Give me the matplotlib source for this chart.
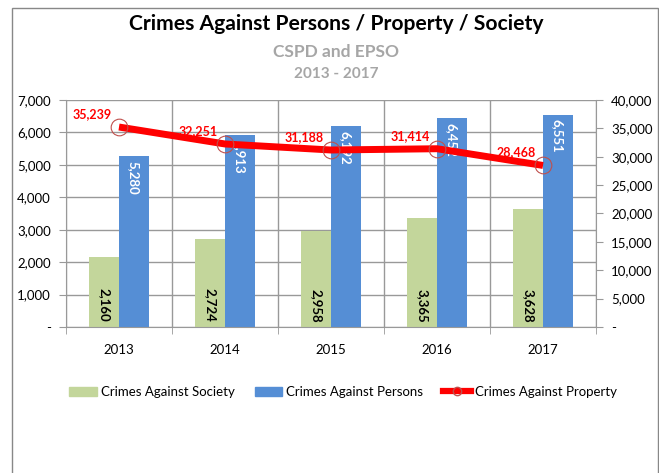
import matplotlib
matplotlib.use("Agg")
import matplotlib.pyplot as plt
from matplotlib.patches import Rectangle
from matplotlib.lines import Line2D
from matplotlib.ticker import FuncFormatter, MultipleLocator
import numpy as np

plt.rcParams['font.family'] = ['Lato', 'DejaVu Sans']

years = ["2013", "2014", "2015", "2016", "2017"]
society = [2160, 2724, 2958, 3365, 3628]
persons = [5280, 5913, 6192, 6452, 6551]
property_ = [35239, 32251, 31188, 31414, 28468]

W, H = 659, 473
fig = plt.figure(figsize=(W/100, H/100), dpi=100)

# outer border
fig.patches.append(Rectangle((12/W, -0.01), (658-12)/W, (H-8)/H + 0.01, transform=fig.transFigure,
                             fill=False, edgecolor='#888888', linewidth=1.0))

left, right, top, bottom = 66, 596, 100, 327
ax = fig.add_axes([left/W, 1-bottom/H, (right-left)/W, (bottom-top)/H])
ax2 = ax.twinx()

x = np.arange(len(years))
bw = 0.28
green = '#c3d69b'
blue = '#558ed5'
ax.bar(x - bw/2, society, bw, color=green, zorder=2)
ax.bar(x + bw/2, persons, bw, color=blue, zorder=2)

ax.set_xlim(-0.5, len(years)-0.5)
ax.set_ylim(0, 7000)
ax.yaxis.set_major_locator(MultipleLocator(1000))
fmt = FuncFormatter(lambda v, p: '-' if v == 0 else f'{int(v):,}')
ax.yaxis.set_major_formatter(fmt)
ax.set_xticks(x)
ax.set_xticklabels(years)
ax.set_xticks(np.arange(-0.5, len(years)), minor=True)
ax.tick_params(axis='x', which='major', length=0, pad=12, labelsize=9.5)
ax.tick_params(axis='x', which='minor', length=5, color='#999999')
ax.tick_params(axis='y', length=5, color='#999999', labelsize=9.5, pad=6)
ax.grid(axis='y', color='#999999', linewidth=1, zorder=0)
ax.grid(axis='x', which='minor', color='#999999', linewidth=1, zorder=0)
for s in ['top', 'right']:
    ax.spines[s].set_visible(False)
ax.spines['left'].set_color('#999999')
ax.spines['bottom'].set_color('#999999')

ax2.set_ylim(0, 40000)
ax2.yaxis.set_major_locator(MultipleLocator(5000))
ax2.yaxis.set_major_formatter(fmt)
ax2.tick_params(axis='y', length=5, color='#999999', labelsize=9.5, pad=6)
for s in ['top', 'left', 'bottom']:
    ax2.spines[s].set_visible(False)
ax2.spines['right'].set_color('#999999')

ax2.plot(x, property_, color='#ff0000', linewidth=5, zorder=3, solid_capstyle='butt')
ax2.plot(x, property_, linestyle='none', marker='o', markersize=12, markerfacecolor='none',
         markeredgecolor='#c0504d', markeredgewidth=0.8, zorder=4)

for i in range(len(years)):
    ax.text(x[i] - bw/2, 150, f'{society[i]:,}', rotation=270, ha='center', va='bottom',
            fontsize=9.5, fontweight='bold', color='black', zorder=5)
    ax.text(x[i] + bw/2, persons[i] - 150, f'{persons[i]:,}', rotation=270, ha='center', va='top',
            fontsize=9.5, fontweight='bold', color='white', zorder=5)
    ax2.annotate(f'{property_[i]:,}', (x[i], property_[i]), xytext=(-5, 5), textcoords='offset points',
                 ha='right', va='bottom', fontsize=9, fontweight='bold', color='#ff0000', zorder=6)

fig.text(336/W, 1-24/H, 'Crimes Against Persons / Property / Society', ha='center', va='center',
         fontsize=15.2, fontweight='bold', color='black')
fig.text(336/W, 1-52/H, 'CSPD and EPSO', ha='center', va='center',
         fontsize=12.5, fontweight='bold', color='#a6a6a6')
fig.text(336/W, 1-74/H, '2013 - 2017', ha='center', va='center',
         fontsize=11, fontweight='bold', color='#a6a6a6')

handles = [Rectangle((0, 0), 1, 1, color=green),
           Rectangle((0, 0), 1, 1, color=blue),
           Line2D([], [], color='#ff0000', linewidth=4.5, marker='o', markersize=6,
                  markerfacecolor='none', markeredgecolor='#c0504d')]
labels = ['Crimes Against Society', 'Crimes Against Persons', 'Crimes Against Property']
fig.legend(handles, labels, loc='center', bbox_to_anchor=(343/W, 1-392/H), ncol=3,
           frameon=False, fontsize=9.5, handlelength=2.1, handletextpad=0.3, columnspacing=1.5)

fig.savefig('out.png', dpi=100)
